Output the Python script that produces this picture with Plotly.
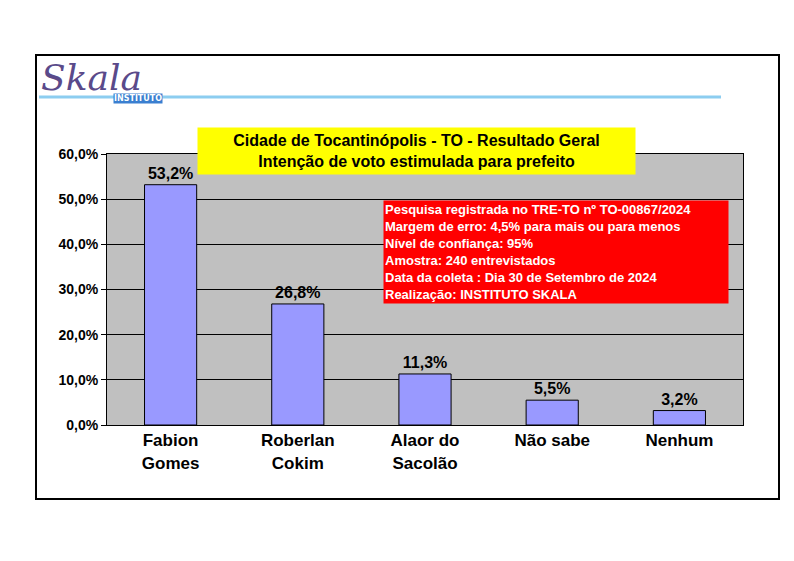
import plotly.graph_objects as go

candidates = ["<b>Fabion<br>Gomes</b>", "<b>Roberlan<br>Cokim</b>", "<b>Alaor do<br>Sacolão</b>", "<b>Não sabe</b>", "<b>Nenhum</b>"]
votes = [53.2, 26.8, 11.3, 5.5, 3.2]
labels = ["<b>53,2%</b>", "<b>26,8%</b>", "<b>11,3%</b>", "<b>5,5%</b>", "<b>3,2%</b>"]
yticks = [0, 10, 20, 30, 40, 50, 60]
yticklabels = ["<b>0,0%</b>", "<b>10,0%</b>", "<b>20,0%</b>", "<b>30,0%</b>", "<b>40,0%</b>", "<b>50,0%</b>", "<b>60,0%</b>"]
info_lines = [
    "Pesquisa registrada no TRE-TO nº TO-00867/2024",
    "Margem de erro: 4,5% para mais ou para menos",
    "Nível de confiança: 95%",
    "Amostra: 240 entrevistados",
    "Data da coleta : Dia 30 de Setembro de 2024",
    "Realização: INSTITUTO SKALA",
]

W, H = 794, 561
OX, OY = 7, 6  # page offset seen in the render
L, R, T, B = 106, 742, 152, 423
def px(x): return (x - L) / (R - L)
def py(y): return (B - y) / (B - T)

fig = go.Figure(go.Bar(
    x=candidates, y=votes, text=labels, textposition="outside",
    textfont=dict(size=16, color="black"), cliponaxis=False,
    marker=dict(color="#9999ff", line=dict(color="black", width=1)),
    width=0.41,
))

fig.update_layout(
    width=W, height=H, paper_bgcolor="white", plot_bgcolor="#c0c0c0",
    margin=dict(l=L - OX, r=W - R + OX, t=T - OY, b=H - B + OY, autoexpand=False),
    showlegend=False,
    font=dict(family="Liberation Sans, Arial", color="black"),
    xaxis=dict(tickfont=dict(size=17), showline=True, linecolor="black",
               mirror=True, ticks="", showgrid=False),
    yaxis=dict(range=[0, 60], tickvals=yticks, ticktext=yticklabels,
               tickfont=dict(size=14), showgrid=True, gridcolor="black",
               gridwidth=1, showline=True, linecolor="black", mirror=True,
               ticks="outside", ticklen=5, tickcolor="black", zeroline=False),
    shapes=[
        dict(type="rect", xref="paper", yref="paper", x0=px(35), x1=px(778),
             y0=py(497), y1=py(53), line=dict(color="black", width=2)),
        dict(type="line", xref="paper", yref="paper", x0=px(38), x1=px(720),
             y0=py(95), y1=py(95), line=dict(color="#8ccdf0", width=3)),
    ],
    annotations=[
        dict(xref="paper", yref="paper", x=px(38), y=py(75), xanchor="left",
             yanchor="middle", showarrow=False, text="<i>Skala</i>",
             font=dict(family="DejaVu Serif", size=36, color="#5a4a8a")),
        dict(xref="paper", yref="paper", x=px(112), y=py(90.5), showarrow=False,
             text="<b>INSTITUTO</b>", font=dict(family="DejaVu Sans", size=8, color="white"),
             bgcolor="#3a7fd0", borderpad=0),
        dict(xref="paper", yref="paper", x=px(415), y=py(124.5), showarrow=False,
             text="<b>Cidade de Tocantinópolis - TO - Resultado Geral<br>Intenção de voto estimulada para prefeito</b>",
             font=dict(size=16), bgcolor="#ffff00", width=435, height=44),
        dict(xref="paper", yref="paper", x=px(382), y=py(250), xanchor="left",
             showarrow=False, align="left", text="<b>" + "<br>".join(info_lines) + "</b>",
             font=dict(size=13, color="white"), bgcolor="#ff0000",
             width=342, height=100),
    ],
)

fig.write_html("out.html")
